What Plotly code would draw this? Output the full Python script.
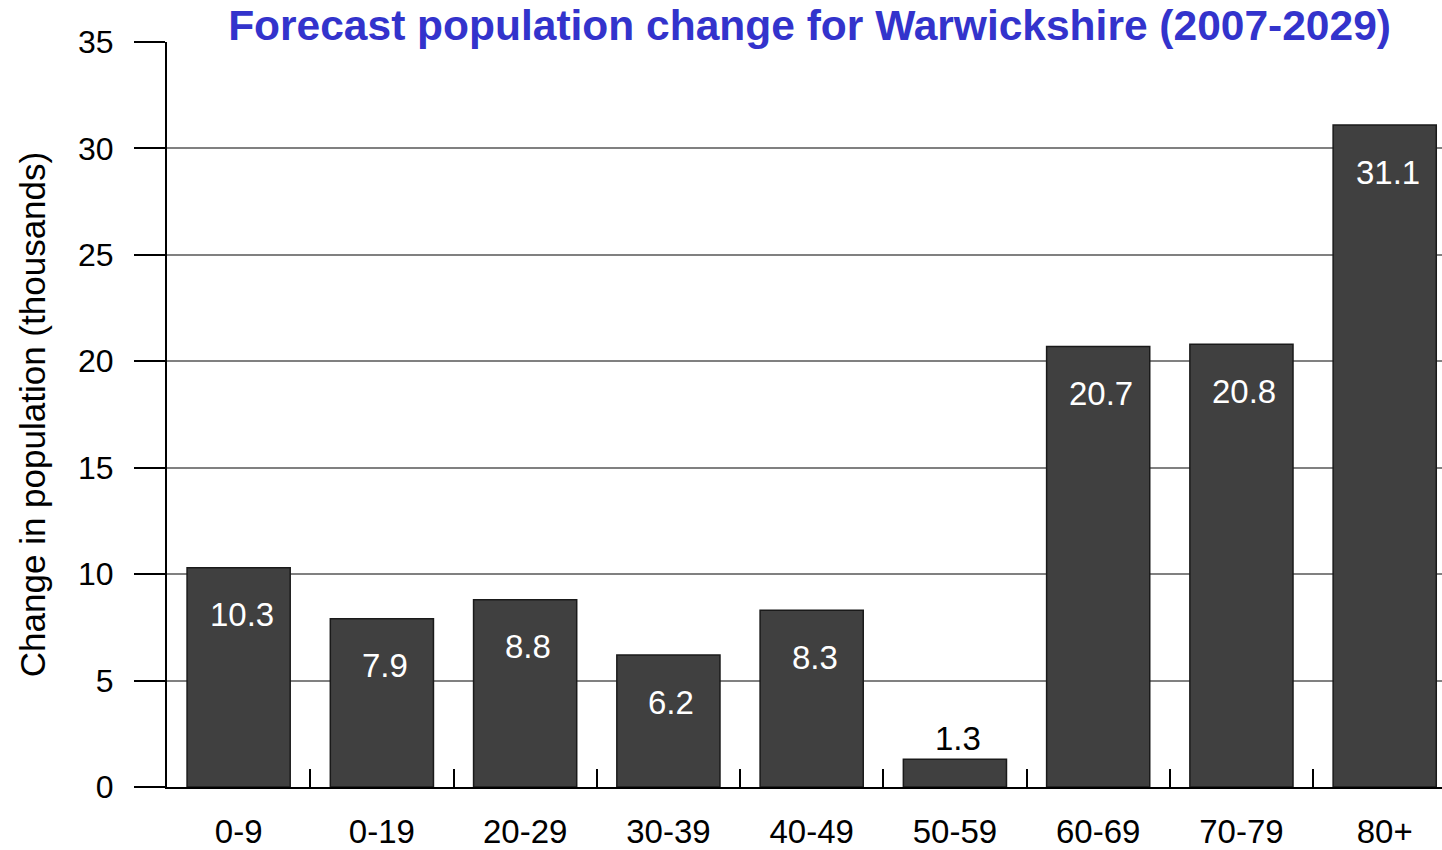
import plotly.graph_objects as go

categories = ["0-9", "0-19", "20-29", "30-39", "40-49", "50-59", "60-69", "70-79", "80+"]
values = [10.3, 7.9, 8.8, 6.2, 8.3, 1.3, 20.7, 20.8, 31.1]
y_ticks = [0, 5, 10, 15, 20, 25, 30, 35]

FONT = "Liberation Sans, Arial, sans-serif"

fig = go.Figure()
fig.add_trace(go.Bar(
    x=categories, y=values,
    marker=dict(color="#404040", line=dict(color="#1a1a1a", width=1.5)),
    hoverinfo="skip",
))

annotations = []
for c, v in zip(categories, values):
    inside = v > 3
    annotations.append(dict(
        x=c, y=v, xref="x", yref="y", text=f"{v:.1f}", showarrow=False,
        yshift=-47 if inside else 21, xshift=3,
        font=dict(family=FONT, size=33, color="white" if inside else "black"),
    ))

fig.update_layout(
    width=1442, height=850,
    margin=dict(l=167, r=0, t=42, b=63),
    plot_bgcolor="white", paper_bgcolor="white",
    bargap=0.28,
    showlegend=False,
    title=dict(text="<b>Forecast population change for Warwickshire (2007-2029)</b>",
               x=0.5614, xanchor="center", y=0.97, yanchor="middle",
               font=dict(family=FONT, size=42.5, color="#3333CC")),
    annotations=annotations,
    xaxis=dict(
        type="category", range=[-0.5, 8.4], automargin=False,
        showline=True, linecolor="black", linewidth=2,
        ticks="inside", tickson="boundaries", ticklen=18, tickcolor="black", tickwidth=2,
        showgrid=False,
        tickfont=dict(family=FONT, size=33, color="black"),
        ticklabelstandoff=14,
    ),
    yaxis=dict(
        range=[0, 35], tickvals=y_ticks, automargin=False,
        showline=True, linecolor="black", linewidth=2,
        ticks="outside", ticklen=31, tickcolor="black", tickwidth=2,
        showgrid=True, gridcolor="#808080", gridwidth=2,
        zeroline=False,
        tickfont=dict(family=FONT, size=32, color="black"),
        ticklabelstandoff=14,
        title=dict(text="Change in population (thousands)", standoff=22,
                   font=dict(family=FONT, size=35, color="black")),
    ),
)

fig.write_html("out.html", config={"displayModeBar": False},
               post_script="document.body.style.margin='0';document.body.style.overflow='hidden';")
